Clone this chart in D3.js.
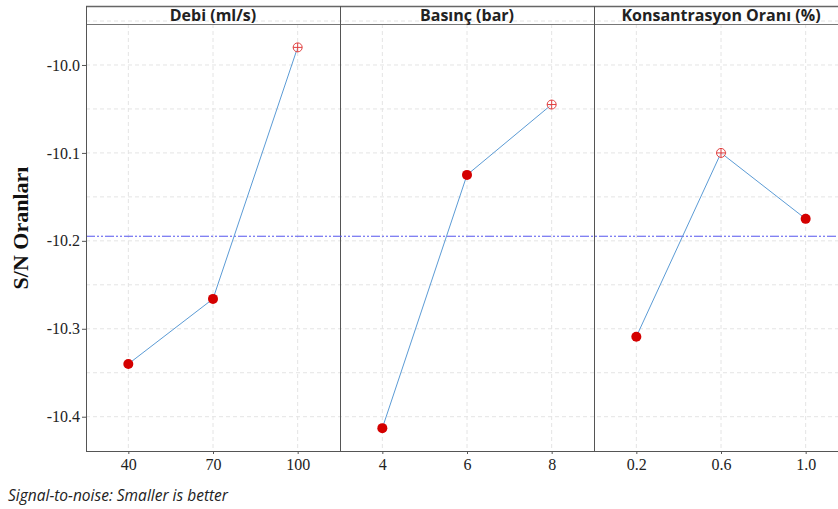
<!DOCTYPE html>
<html>
<head>
<meta charset="utf-8">
<script src="https://cdn.jsdelivr.net/npm/d3@7"></script>
<style>
  body { margin: 0; background: #fff; }
  svg { display: block; }
</style>
</head>
<body>
<svg id="chart" width="838" height="509"></svg>
<script>
const svg = d3.select("#chart");

// factor names and their levels
const factors = ["Debi (ml/s)", "Basınç (bar)", "Konsantrasyon Oranı (%)"];
const levels = [["40", "70", "100"], ["4", "6", "8"], ["0.2", "0.6", "1.0"]];
// S/N means for each level
const snValues = [
    [-10.340, -10.266, -9.980],
    [-10.413, -10.125, -10.045],
    [-10.309, -10.100, -10.175]
];
const yTicks = [-10.0, -10.1, -10.2, -10.3, -10.4];
const gridValues = [-9.95, -10.0, -10.05, -10.1, -10.15, -10.2, -10.25, -10.3, -10.35, -10.4];

const LEFT = 86, TOP = 6, STRIP = 18, BOTTOM = 451, PANEL_W = 254;
const plotTop = TOP + STRIP;

const yscale = d3.scaleLinear()
    .domain([-9.9534, -10.439])
    .range([plotTop, BOTTOM]);

const grandMean = d3.mean(snValues.flat());

function main() {
    drawGrid();
    drawPanels();
    drawMeanLine();
    drawSeries();
    drawAxes();
    drawTexts();
}

function panelScale(i) {
    return d3.scalePoint()
        .domain(levels[i])
        .range([LEFT + i * PANEL_W, LEFT + (i + 1) * PANEL_W])
        .padding(0.5);
}

function drawGrid() {
    const g = svg.append("g").attr("class", "grid");
    g.selectAll(".hgrid").data(gridValues).join("line")
        .attr("class", "hgrid")
        .attr("x1", LEFT).attr("x2", 838)
        .attr("y1", d => yscale(d)).attr("y2", d => yscale(d))
        .attr("stroke", "#e4e4e4").attr("stroke-dasharray", "4,3");
    factors.forEach((f, i) => {
        const x = panelScale(i);
        g.selectAll(".vgrid" + i).data(levels[i]).join("line")
            .attr("class", "vgrid" + i)
            .attr("x1", d => x(d)).attr("x2", d => x(d))
            .attr("y1", plotTop).attr("y2", BOTTOM)
            .attr("stroke", "#e4e4e4").attr("stroke-dasharray", "4,3");
    });
}

function drawPanels() {
    const g = svg.append("g");
    // strip header
    g.append("line").attr("x1", LEFT).attr("x2", 838).attr("y1", TOP + 0.5).attr("y2", TOP + 0.5)
        .attr("stroke", "#666").attr("stroke-width", 1.5);
    g.append("line").attr("x1", LEFT).attr("x2", 838).attr("y1", plotTop + 0.5).attr("y2", plotTop + 0.5)
        .attr("stroke", "#777").attr("stroke-width", 1);
    factors.forEach((f, i) => {
        g.append("text")
            .attr("x", LEFT + i * PANEL_W + PANEL_W / 2)
            .attr("y", TOP + 15)
            .attr("text-anchor", "middle")
            .style("font-family", "'Open Sans', 'Noto Sans', sans-serif")
            .style("font-weight", "bold")
            .style("font-size", "16px")
            .style("fill", "#222")
            .text(f);
    });
    // panel dividers
    [1, 2].forEach(i => {
        g.append("line")
            .attr("x1", LEFT + i * PANEL_W + 0.5).attr("x2", LEFT + i * PANEL_W + 0.5)
            .attr("y1", TOP).attr("y2", BOTTOM)
            .attr("stroke", "#555").attr("stroke-width", 1);
    });
}

function drawMeanLine() {
    svg.append("line")
        .attr("x1", LEFT).attr("x2", 838)
        .attr("y1", yscale(grandMean)).attr("y2", yscale(grandMean))
        .attr("stroke", "#5555ee").attr("stroke-width", 1)
        .attr("stroke-dasharray", "9,2,2,2,2,2");
}

function drawSeries() {
    factors.forEach((f, i) => {
        const x = panelScale(i);
        const pts = levels[i].map((lv, j) => ({lv: lv, v: snValues[i][j]}));
        const best = d3.max(snValues[i]);
        const g = svg.append("g");
        g.append("path")
            .datum(pts)
            .attr("fill", "none")
            .attr("stroke", "#5b9bd5")
            .attr("stroke-width", 1)
            .attr("d", d3.line().x(d => x(d.lv)).y(d => yscale(d.v)));
        pts.forEach(d => {
            const cx = x(d.lv), cy = yscale(d.v);
            if (d.v === best) {
                g.append("circle").attr("cx", cx).attr("cy", cy).attr("r", 4.5)
                    .attr("fill", "#fff").attr("fill-opacity", 0.6)
                    .attr("stroke", "#e04040").attr("stroke-width", 1);
                g.append("line").attr("x1", cx - 4.5).attr("x2", cx + 4.5).attr("y1", cy).attr("y2", cy)
                    .attr("stroke", "#e04040").attr("stroke-width", 1);
                g.append("line").attr("x1", cx).attr("x2", cx).attr("y1", cy - 4.5).attr("y2", cy + 4.5)
                    .attr("stroke", "#e04040").attr("stroke-width", 1);
            } else {
                g.append("circle").attr("cx", cx).attr("cy", cy).attr("r", 5)
                    .attr("fill", "#d40000");
            }
        });
    });
}

function drawAxes() {
    const yAxis = svg.append("g")
        .attr("transform", `translate(${LEFT},0)`)
        .call(d3.axisLeft(yscale).tickValues(yTicks).tickFormat(d => d.toFixed(1)).tickSize(4).tickPadding(2));
    yAxis.select(".domain").remove();
    yAxis.append("line").attr("x1", 0.5).attr("x2", 0.5).attr("y1", TOP).attr("y2", BOTTOM)
        .attr("stroke", "#555");
    yAxis.selectAll(".tick line").attr("stroke", "#555");
    yAxis.selectAll(".tick text")
        .style("font-family", "'Liberation Serif', 'Times New Roman', serif")
        .style("font-size", "16px").style("fill", "#222");

    factors.forEach((f, i) => {
        const xa = svg.append("g")
            .attr("transform", `translate(0,${BOTTOM})`)
            .call(d3.axisBottom(panelScale(i)).tickSize(3).tickPadding(5));
        xa.select(".domain").remove();
        xa.selectAll(".tick line").attr("stroke", "#555");
        xa.selectAll(".tick text")
            .style("font-family", "'Liberation Serif', 'Times New Roman', serif")
            .style("font-size", "16px").style("fill", "#222");
    });
    svg.append("line").attr("x1", LEFT).attr("x2", 838).attr("y1", BOTTOM + 0.5).attr("y2", BOTTOM + 0.5)
        .attr("stroke", "#555");
}

function drawTexts() {
    svg.append("text")
        .attr("transform", `translate(28,228) rotate(-90)`)
        .attr("text-anchor", "middle")
        .style("font-family", "'Liberation Serif', 'Times New Roman', serif")
        .style("font-weight", "bold")
        .style("font-size", "22px")
        .style("fill", "#111")
        .text("S/N Oranları");
    svg.append("text")
        .attr("x", 8).attr("y", 501)
        .style("font-family", "'Open Sans', 'Noto Sans', sans-serif")
        .style("font-style", "italic")
        .style("font-size", "15.5px")
        .style("fill", "#222")
        .text("Signal-to-noise: Smaller is better");
}

main();
</script>
</body>
</html>
